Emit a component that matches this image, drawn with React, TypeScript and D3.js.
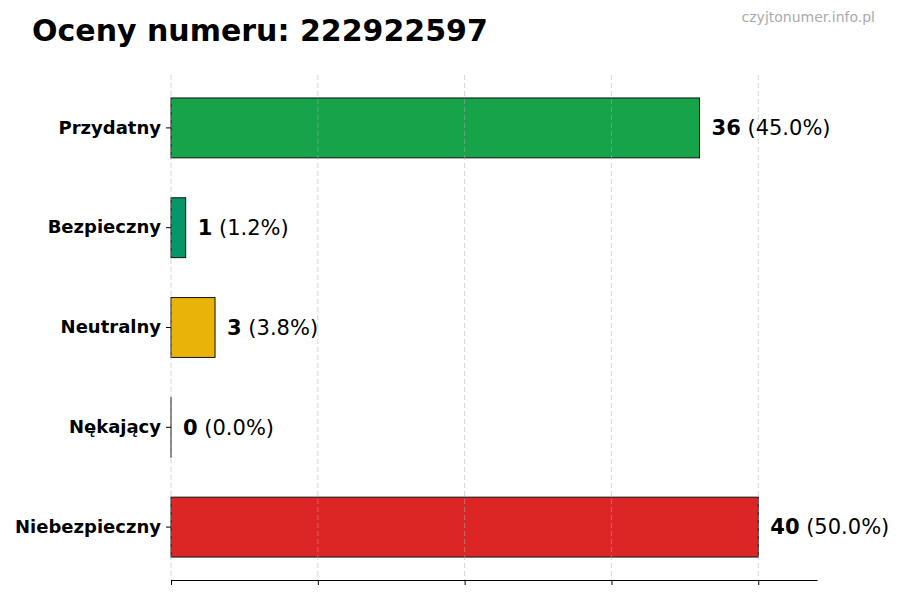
import React, { useEffect, useRef } from "react";
import * as d3 from "d3";

const categories = ["Przydatny", "Bezpieczny", "Neutralny", "Nękający", "Niebezpieczny"];
const counts = [36, 1, 3, 0, 40];
const percents = ["45.0%", "1.2%", "3.8%", "0.0%", "50.0%"];
const barColors = ["#16a34a", "#059669", "#eab308", "#6b7280", "#dc2626"];
const xTicks = [0, 10, 20, 30, 40];

const App: React.FC = () => {
    const svgRef = useRef<SVGSVGElement | null>(null);

    useEffect(() => {
        if (!svgRef.current) return;
        const svg = d3.select(svgRef.current);
        svg.selectAll("*").remove();

        const font = "'DejaVu Sans', sans-serif";
        const left = 171, right = 817, top = 75, bottom = 580;

        const x = d3.scaleLinear().domain([0, 44]).range([left, right]);
        const y = d3.scaleBand<string>()
            .domain(categories)
            .range([78, 577])
            .paddingInner(0.4)
            .paddingOuter(0.2);

        // tytuł i znak wodny
        svg.append("text")
            .attr("x", 32).attr("y", 41)
            .attr("font-family", font).attr("font-weight", "bold")
            .attr("font-size", 30)
            .text("Oceny numeru: 222922597");

        svg.append("text")
            .attr("x", 875).attr("y", 22)
            .attr("text-anchor", "end")
            .attr("font-family", font).attr("font-size", 14)
            .attr("fill", "#aaaaaa")
            .text("czyjtonumer.info.pl");

        // słupki (0 = sama krawędź)
        svg.selectAll("rect.bar")
            .data(counts)
            .enter()
            .append("rect")
            .attr("class", "bar")
            .attr("x", x(0))
            .attr("y", (_, i) => y(categories[i])!)
            .attr("width", (d) => Math.max(x(d) - x(0), 0.01))
            .attr("height", y.bandwidth())
            .attr("fill", (_, i) => barColors[i])
            .attr("stroke", "#111")
            .attr("stroke-width", 1);

        // siatka
        svg.append("g")
            .selectAll("line")
            .data(xTicks)
            .enter()
            .append("line")
            .attr("x1", (d) => x(d)).attr("x2", (d) => x(d))
            .attr("y1", top).attr("y2", bottom)
            .attr("stroke", "#b0b0b0")
            .attr("stroke-opacity", 0.5)
            .attr("stroke-dasharray", "5,3");

        // oś X bez etykiet
        const xAxis = svg.append("g")
            .attr("transform", `translate(0,${bottom})`)
            .call(d3.axisBottom(x).tickValues(xTicks).tickFormat(() => "").tickSize(5).tickSizeOuter(0));
        xAxis.select(".domain").attr("stroke", "#000");

        // oś Y: tylko kreski i etykiety
        const yAxis = svg.append("g")
            .attr("transform", `translate(${left},0)`)
            .call(d3.axisLeft(y).tickSize(5).tickPadding(5));
        yAxis.select(".domain").remove();
        yAxis.selectAll("text")
            .attr("font-family", font)
            .attr("font-weight", "bold")
            .attr("font-size", 18)
            .attr("fill", "#000");

        // etykiety wartości
        const labels = svg.selectAll("text.val")
            .data(counts)
            .enter()
            .append("text")
            .attr("class", "val")
            .attr("x", (d) => x(d) + 12)
            .attr("y", (_, i) => y(categories[i])! + y.bandwidth() / 2)
            .attr("dy", "0.35em")
            .attr("font-family", font)
            .attr("font-size", 21);
        labels.append("tspan").attr("font-weight", "bold").text((d) => String(d));
        labels.append("tspan").text((_, i) => ` (${percents[i]})`);
    }, []);

    return (
        <svg
            ref={svgRef}
            width={900}
            height={600}
            style={{ position: "absolute", top: 0, left: 0, background: "#fff" }}
        />
    );
};

export default App;
